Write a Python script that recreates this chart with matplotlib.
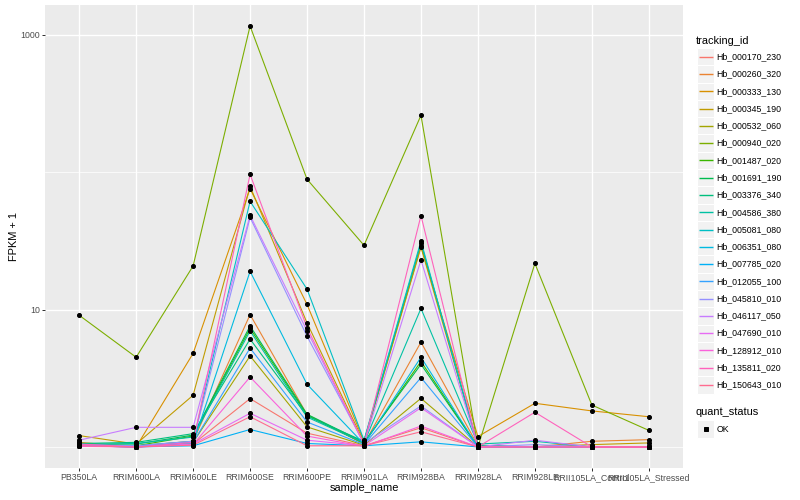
import numpy as np
import matplotlib
matplotlib.use("Agg")
import matplotlib.pyplot as plt
from matplotlib.patches import Rectangle

plt.rcParams['font.family'] = ['Liberation Sans', 'DejaVu Sans']

# samples on the x axis
sample_names = ['PB350LA', 'RRIM600LA', 'RRIM600LE', 'RRIM600SE', 'RRIM600PE',
                'RRIM901LA', 'RRIM928BA', 'RRIM928LA', 'RRIM928LE',
                'RRII105LA_Control', 'RRII105LA_Stressed']

tracking_ids = ['Hb_000170_230', 'Hb_000260_320', 'Hb_000333_130', 'Hb_000345_190',
                'Hb_000532_060', 'Hb_000940_020', 'Hb_001487_020', 'Hb_001691_190',
                'Hb_003376_340', 'Hb_004586_380', 'Hb_005081_080', 'Hb_006351_080',
                'Hb_007785_020', 'Hb_012055_100', 'Hb_045810_010', 'Hb_046117_050',
                'Hb_047690_010', 'Hb_128912_010', 'Hb_135811_020', 'Hb_150643_010']

# ggplot hue palette, 20 levels
hue_colors = ['#F8766D', '#EA8331', '#D89000', '#C09B00', '#A3A500', '#7CAE00',
              '#39B600', '#00BB4E', '#00BF7D', '#00C1A3', '#00BFC4', '#00BAE0',
              '#00B0F6', '#35A2FF', '#9590FF', '#C77CFF', '#E76BF3', '#FA62DB',
              '#FF62BC', '#FF6C90']

# FPKM + 1
fpkm_000170_230 = [1.03, 1.00, 1.05, 2.25, 1.26, 1.02, 1.38, 1.00, 1.00, 1.00, 1.00]
fpkm_000260_320 = [1.05, 1.02, 1.10, 9.2, 1.72, 1.05, 5.8, 1.02, 1.00, 1.10, 1.13]
fpkm_000333_130 = [1.08, 1.00, 4.8, 76, 10.9, 1.10, 29, 1.19, 2.08, 1.83, 1.66]
fpkm_000345_190 = [1.21, 1.05, 2.38, 79, 8.0, 1.08, 28.5, 1.02, 1.00, 1.04, 1.07]
fpkm_000532_060 = [1.02, 1.00, 1.08, 4.6, 1.40, 1.03, 2.26, 1.00, 1.00, 1.00, 1.00]
fpkm_000940_020 = [9.1, 4.5, 20.8, 1162, 89, 29.4, 260, 1.00, 21.7, 2.02, 1.32]
fpkm_001487_020 = [1.04, 1.02, 1.20, 7.3, 1.70, 1.06, 4.2, 1.00, 1.00, 1.00, 1.00]
fpkm_001691_190 = [1.05, 1.05, 1.22, 7.6, 1.73, 1.08, 4.0, 1.00, 1.00, 1.00, 1.00]
fpkm_003376_340 = [1.06, 1.08, 1.25, 6.1, 1.68, 1.10, 30.5, 1.03, 1.00, 1.00, 1.00]
fpkm_004586_380 = [1.04, 1.06, 1.18, 7.0, 1.65, 1.07, 10.2, 1.05, 1.10, 1.00, 1.00]
fpkm_005081_080 = [1.03, 1.02, 1.10, 61.5, 14.1, 1.12, 31.6, 1.00, 1.00, 1.00, 1.00]
fpkm_006351_080 = [1.02, 1.00, 1.06, 19, 2.86, 1.05, 4.5, 1.00, 1.00, 1.00, 1.00]
fpkm_007785_020 = [1.02, 1.00, 1.02, 1.34, 1.06, 1.02, 1.09, 1.00, 1.00, 1.00, 1.00]
fpkm_012055_100 = [1.03, 1.01, 1.08, 5.25, 1.52, 1.04, 3.2, 1.00, 1.00, 1.00, 1.00]
fpkm_045810_010 = [1.04, 1.02, 1.10, 46.9, 6.4, 1.06, 1.99, 1.00, 1.04, 1.00, 1.00]
fpkm_046117_050 = [1.12, 1.39, 1.39, 48.6, 7.0, 1.05, 23, 1.00, 1.12, 1.00, 1.00]
fpkm_047690_010 = [1.02, 1.00, 1.05, 1.76, 1.12, 1.02, 1.93, 1.00, 1.00, 1.00, 1.00]
fpkm_128912_010 = [1.01, 1.00, 1.04, 3.23, 1.20, 1.01, 1.42, 1.00, 1.00, 1.00, 1.00]
fpkm_135811_020 = [1.05, 1.00, 1.08, 96.6, 7.4, 1.05, 48.4, 1.00, 1.79, 1.00, 1.00]
fpkm_150643_010 = [1.02, 1.00, 1.03, 1.66, 1.02, 1.02, 1.29, 1.00, 1.00, 1.00, 1.00]

series = [fpkm_000170_230, fpkm_000260_320, fpkm_000333_130, fpkm_000345_190,
          fpkm_000532_060, fpkm_000940_020, fpkm_001487_020, fpkm_001691_190,
          fpkm_003376_340, fpkm_004586_380, fpkm_005081_080, fpkm_006351_080,
          fpkm_007785_020, fpkm_012055_100, fpkm_045810_010, fpkm_046117_050,
          fpkm_047690_010, fpkm_128912_010, fpkm_135811_020, fpkm_150643_010]

W, H = 800, 500
fig = plt.figure(figsize=(W / 72, H / 72), dpi=72)
fig.patch.set_facecolor('white')

# panel placement in pixels
pl, pr, pt, pb = 45, 683, 5, 468
ax = fig.add_axes([pl / W, 1 - pb / H, (pr - pl) / W, (pb - pt) / H])
ax.set_facecolor('#EBEBEB')

x = np.arange(len(sample_names))
for vals, col in zip(series, hue_colors):
    ax.plot(x, vals, color=col, lw=1.1, zorder=2, solid_capstyle='butt')
for vals in series:
    ax.plot(x, vals, 'o', color='black', ms=4.0, zorder=3)

ax.set_yscale('log')
allv = np.concatenate([np.asarray(s, float) for s in series])
lo, hi = np.log10(allv.min()), np.log10(allv.max())
pad = 0.05 * (hi - lo)
ax.set_ylim(10 ** (lo - pad), 10 ** (hi + pad))
ax.set_xlim(-0.6, len(sample_names) - 1 + 0.6)

ax.set_yticks([10, 1000])
ax.set_yticklabels(['10', '1000'])
ax.set_yticks([1, 100], minor=True)
ax.yaxis.set_minor_formatter(matplotlib.ticker.NullFormatter())
ax.set_xticks(x)
ax.set_xticklabels(sample_names)

ax.grid(True, which='major', color='white', lw=1.4)
ax.grid(True, which='minor', axis='y', color='white', lw=0.7)
ax.set_axisbelow(True)
for s in ax.spines.values():
    s.set_visible(False)
ax.tick_params(axis='both', which='major', length=2.75, width=1.0, color='#333333',
               labelcolor='#4D4D4D', labelsize=8.8, pad=2.2)
ax.tick_params(axis='y', which='minor', length=0)

fig.text((pl + pr) / 2 / W, 1 - 488 / H, 'sample_name', ha='center', va='center',
         fontsize=11, color='black')
fig.text(14 / W, 1 - ((pt + pb) / 2) / H, 'FPKM + 1', ha='center', va='center',
         rotation=90, fontsize=11, color='black')

# legends drawn in pixel coordinates
lg = fig.add_axes([0, 0, 1, 1], zorder=5)
lg.set_xlim(0, W)
lg.set_ylim(H, 0)
lg.axis('off')
lg.patch.set_alpha(0)

key_w = 17.28
key_x = 697
lg.text(696, 40.5, 'tracking_id', fontsize=11, va='center', ha='left')
for i, (tid, col) in enumerate(zip(tracking_ids, hue_colors)):
    yc = 56.7 + i * 17.28
    lg.add_patch(Rectangle((key_x, yc - key_w / 2), key_w, key_w,
                           facecolor='#F2F2F2', edgecolor='white', lw=1, zorder=1))
    lg.plot([key_x + 1.7, key_x + key_w - 1.7], [yc, yc], color=col, lw=1.4,
            zorder=3, solid_capstyle='butt')
    lg.text(716.5, yc, tid, fontsize=8.8, va='center', ha='left')

lg.text(696, 412, 'quant_status', fontsize=11, va='center', ha='left')
lg.add_patch(Rectangle((key_x, 429 - key_w / 2), key_w, key_w,
                       facecolor='#F2F2F2', edgecolor='white', lw=1, zorder=1))
lg.plot([key_x + key_w / 2], [429], 's', color='black', ms=3.5, zorder=3)
lg.text(716.5, 429, 'OK', fontsize=8.8, va='center', ha='left')

fig.savefig('out.png', dpi=72)
